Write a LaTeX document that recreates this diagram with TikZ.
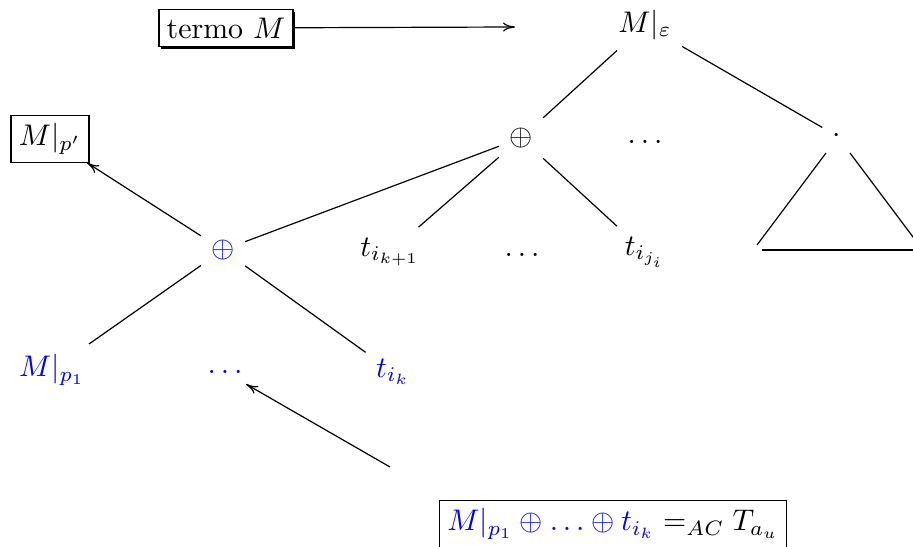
\documentclass[tikz,border=0pt]{standalone}
\usetikzlibrary{shadows, arrows.meta}
\begin{document}
\begin{tikzpicture}[x=0.335pt, y=-0.335pt,
    box/.style={rectangle, draw, inner sep=2.6pt},
    shadowbox/.style={rectangle, draw, fill=white, inner sep=2.6pt, drop shadow={shadow xshift=0.8pt, shadow yshift=-0.8pt, fill=black, opacity=1}},
    hl/.style={text=blue},
    tip/.style={-{To[length=4pt, width=3pt]}}]
    \useasboundingbox (0,0) rectangle (913,547);
    % upper part of the term
    \node [shadowbox] (termo) at (226,28) {termo $M$};
    \coordinate (root in) at (515,27);
    \node (root) at (645,25) {$M|_{\varepsilon}$};
    \node (plus) at (521,138) {$\oplus$};
    \node (dotsA) at (645,142) {$\ldots$};
    \node (dot) at (837,136) {$\cdot$};
    % roof under the dot
    \coordinate (roofl) at (826,153);
    \coordinate (roofr) at (850,153);
    \coordinate (roofbl) at (757,245);
    \coordinate (roofbr) at (919,245);
    \coordinate (basel) at (762,250);
    \coordinate (baser) at (920,250);
    % middle row
    \node [box] (sub) at (50,139) {$M|_{p'}$};
    \node [hl] (hplus) at (223,250) {$\oplus$};
    \node (tk1) at (390,252) {$t_{i_{k+1}}$};
    \node (dotsB) at (522,255) {$\ldots$};
    \node (tji) at (645,252) {$t_{i_{j_i}}$};
    % lower row
    \node [hl] (mp1) at (52,370) {$M|_{p_1}$};
    \node [hl] (dotsC) at (225,372) {$\ldots$};
    \node [hl] (tk) at (393,372) {$t_{i_k}$};
    \coordinate (note out) at (390,467);
    \node [box] (eq) at (613,524) {$\textcolor{blue}{M|_{p_1} \oplus \ldots \oplus t_{i_k}} =_{AC} T_{a_u}$};

    \draw [tip] (termo) -- (root in);
    \draw (root) -- (plus);
    \draw (root) -- (dot);
    \draw (plus) -- (hplus);
    \draw (plus) -- (tk1);
    \draw (plus) -- (tji);
    \draw (roofl) -- (roofbl);
    \draw (roofr) -- (roofbr);
    \draw (basel) -- (baser);
    \draw [tip] (hplus) -- (sub);
    \draw (hplus) -- (mp1);
    \draw (hplus) -- (tk);
    \draw [tip] (note out) -- (dotsC);
\end{tikzpicture}
\end{document}
